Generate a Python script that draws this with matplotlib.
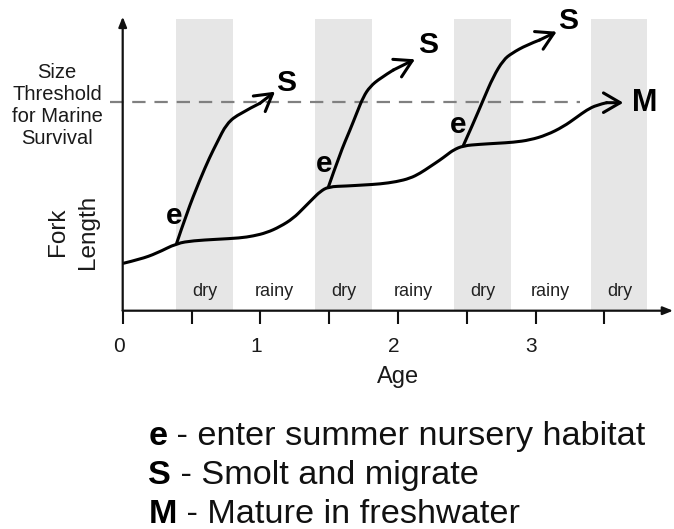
import matplotlib
matplotlib.use('Agg')
import matplotlib.pyplot as plt
import matplotlib.transforms as mtransforms
from matplotlib.path import Path
from matplotlib.patches import PathPatch

plt.rcParams['font.family'] = ['Liberation Sans', 'DejaVu Sans']

# dry-season bands (age, years)
dry_bands = [(0.39, 0.80), (1.40, 1.81), (2.41, 2.82), (3.40, 3.81)]
season_labels = ['dry', 'rainy', 'dry', 'rainy', 'dry', 'rainy', 'dry']
season_x = [0.60, 1.10, 1.61, 2.11, 2.62, 3.11, 3.61]

threshold = 2.09

# resident (main) growth curve, ends at M
main_x = [0.004, 0.126, 0.247, 0.392, 0.513, 0.683, 0.852, 0.949, 1.046, 1.143, 1.24,
          1.313, 1.385, 1.434, 1.494, 1.628, 1.749, 1.870, 1.991, 2.088, 2.161, 2.233,
          2.306, 2.355, 2.403, 2.475, 2.597, 2.718, 2.839, 2.96, 3.081, 3.202, 3.299,
          3.372, 3.445, 3.517, 3.638]
main_y = [0.474, 0.514, 0.574, 0.674, 0.70, 0.714, 0.727, 0.747, 0.78, 0.84, 0.924,
          1.024, 1.124, 1.19, 1.24, 1.247, 1.257, 1.267, 1.29, 1.324, 1.374, 1.44,
          1.507, 1.557, 1.607, 1.65, 1.664, 1.674, 1.684, 1.707, 1.757, 1.84, 1.934,
          2.007, 2.057, 2.08, 2.08]

# smolt branches, each ends at S
s1_x = [0.392, 0.465, 0.56, 0.634, 0.683, 0.756, 0.852, 0.997, 1.107]
s1_y = [0.674, 0.974, 1.307, 1.54, 1.674, 1.874, 1.974, 2.074, 2.19]
s2_x = [1.494, 1.58, 1.652, 1.70, 1.749, 1.797, 1.87, 1.967, 2.124]
s2_y = [1.234, 1.574, 1.807, 1.974, 2.14, 2.24, 2.324, 2.407, 2.514]
s3_x = [2.475, 2.548, 2.62, 2.693, 2.766, 2.827, 2.936, 3.03, 3.154]
s3_y = [1.65, 1.874, 2.107, 2.34, 2.507, 2.574, 2.657, 2.707, 2.79]

e_marks = [(0.373, 0.947), (1.465, 1.47), (2.439, 1.857)]
s_marks = [(1.19, 2.277), (2.217, 2.657), (3.238, 2.90)]
m_mark = (3.79, 2.077)

legend_items = [('e', ' - enter summer nursery habitat'),
                ('S', ' - Smolt and migrate'),
                ('M', ' - Mature in freshwater')]


def smooth_path(xs, ys):
    # quadratic bezier through the read points (points used as control points)
    verts = [(xs[0], ys[0])]
    codes = [Path.MOVETO]
    for i in range(1, len(xs) - 1):
        mid = ((xs[i] + xs[i + 1]) / 2, (ys[i] + ys[i + 1]) / 2)
        if i == len(xs) - 2:
            mid = (xs[i + 1], ys[i + 1])
        verts += [(xs[i], ys[i]), mid]
        codes += [Path.CURVE3, Path.CURVE3]
    return Path(verts, codes)


W, H = 674, 529
fig = plt.figure(figsize=(W / 100, H / 100), dpi=100)
ax = fig.add_axes([122.7 / W, 1 - 310.7 / H, 550.4 / W, 296 / H])
ax.set_xlim(0, 4.0)
ax.set_ylim(0, 2.96)
for s in ax.spines.values():
    s.set_visible(False)

for a, b in dry_bands:
    ax.axvspan(a, b, ymin=0, ymax=2.915 / 2.96, color='#e6e6e6', lw=0, zorder=0)

for lab, x in zip(season_labels, season_x):
    ax.text(x, 0.19, lab, ha='center', va='center', fontsize=13, color='#222222')

ax.plot([-0.092, 3.32], [threshold, threshold], color='#808080', lw=1.6,
        dashes=(6, 4), clip_on=False, zorder=1)

arrow_kw = dict(arrowstyle='->,head_length=0.55,head_width=0.32', lw=2.2,
                color='black', shrinkA=0, shrinkB=0, mutation_scale=22)
for xs, ys in [(main_x, main_y), (s1_x, s1_y), (s2_x, s2_y), (s3_x, s3_y)]:
    ax.add_patch(PathPatch(smooth_path(xs[:-1], ys[:-1]), fill=False, lw=2.2,
                           edgecolor='black', capstyle='round', joinstyle='round',
                           zorder=3))
    ax.annotate('', xy=(xs[-1], ys[-1]), xytext=(xs[-2], ys[-2]),
                arrowprops=arrow_kw, zorder=3)

for x, y in e_marks:
    ax.text(x, y, 'e', ha='center', va='center', fontsize=21.5, fontweight='bold')
for x, y in s_marks:
    ax.text(x, y, 'S', ha='center', va='center', fontsize=21.5, fontweight='bold')
ax.text(m_mark[0], m_mark[1], 'M', ha='center', va='center', fontsize=22, fontweight='bold')

# axes with arrows
ax.annotate('', xy=(4.0, 0), xytext=(0, 0), annotation_clip=False,
            arrowprops=dict(arrowstyle='-|>,head_length=0.5,head_width=0.2', lw=1.6,
                            color='#111111', shrinkA=0, shrinkB=0, mutation_scale=12))
ax.annotate('', xy=(0, 2.94), xytext=(0, 0), annotation_clip=False,
            arrowprops=dict(arrowstyle='-|>,head_length=0.5,head_width=0.2', lw=1.6,
                            color='#111111', shrinkA=0, shrinkB=0, mutation_scale=12))

ax.set_xticks([0, 0.5, 1, 1.5, 2, 2.5, 3, 3.5])
ax.set_xticklabels(['0', '', '1', '', '2', '', '3', ''])
ax.tick_params(axis='x', direction='out', length=9, width=1.5, color='#111111',
               labelsize=15, pad=10, labelcolor='#1a1a1a')
ax.set_yticks([])
offset = mtransforms.ScaledTranslation(-4 / 100, 0, fig.dpi_scale_trans)
for lbl in ax.get_xticklabels():
    lbl.set_transform(lbl.get_transform() + offset)

fig.text(398 / W, 1 - 377 / H, 'Age', ha='center', va='center', fontsize=17, color='#1a1a1a')
fig.text(73 / W, 1 - 232 / H, 'Fork\nLength', ha='center', va='center', rotation=90,
         fontsize=17.5, linespacing=1.45, color='#1a1a1a')
fig.text(57 / W, 1 - 105 / H, 'Size\nThreshold\nfor Marine\nSurvival', ha='center',
         va='center', fontsize=14.5, linespacing=1.2, color='#1a1a1a')

# legend below the chart
for i, (key, desc) in enumerate(legend_items):
    base = 445 + 39 * i
    t = fig.text(148.3 / W, 1 - base / H, key, ha='left', va='baseline',
                 fontsize=24.7, fontweight='bold', color='black')
    ax.annotate(desc, xy=(1, 0), xycoords=t, ha='left', va='bottom',
                fontsize=24.7, color='#111111', annotation_clip=False)

fig.savefig('out.png', dpi=100)
